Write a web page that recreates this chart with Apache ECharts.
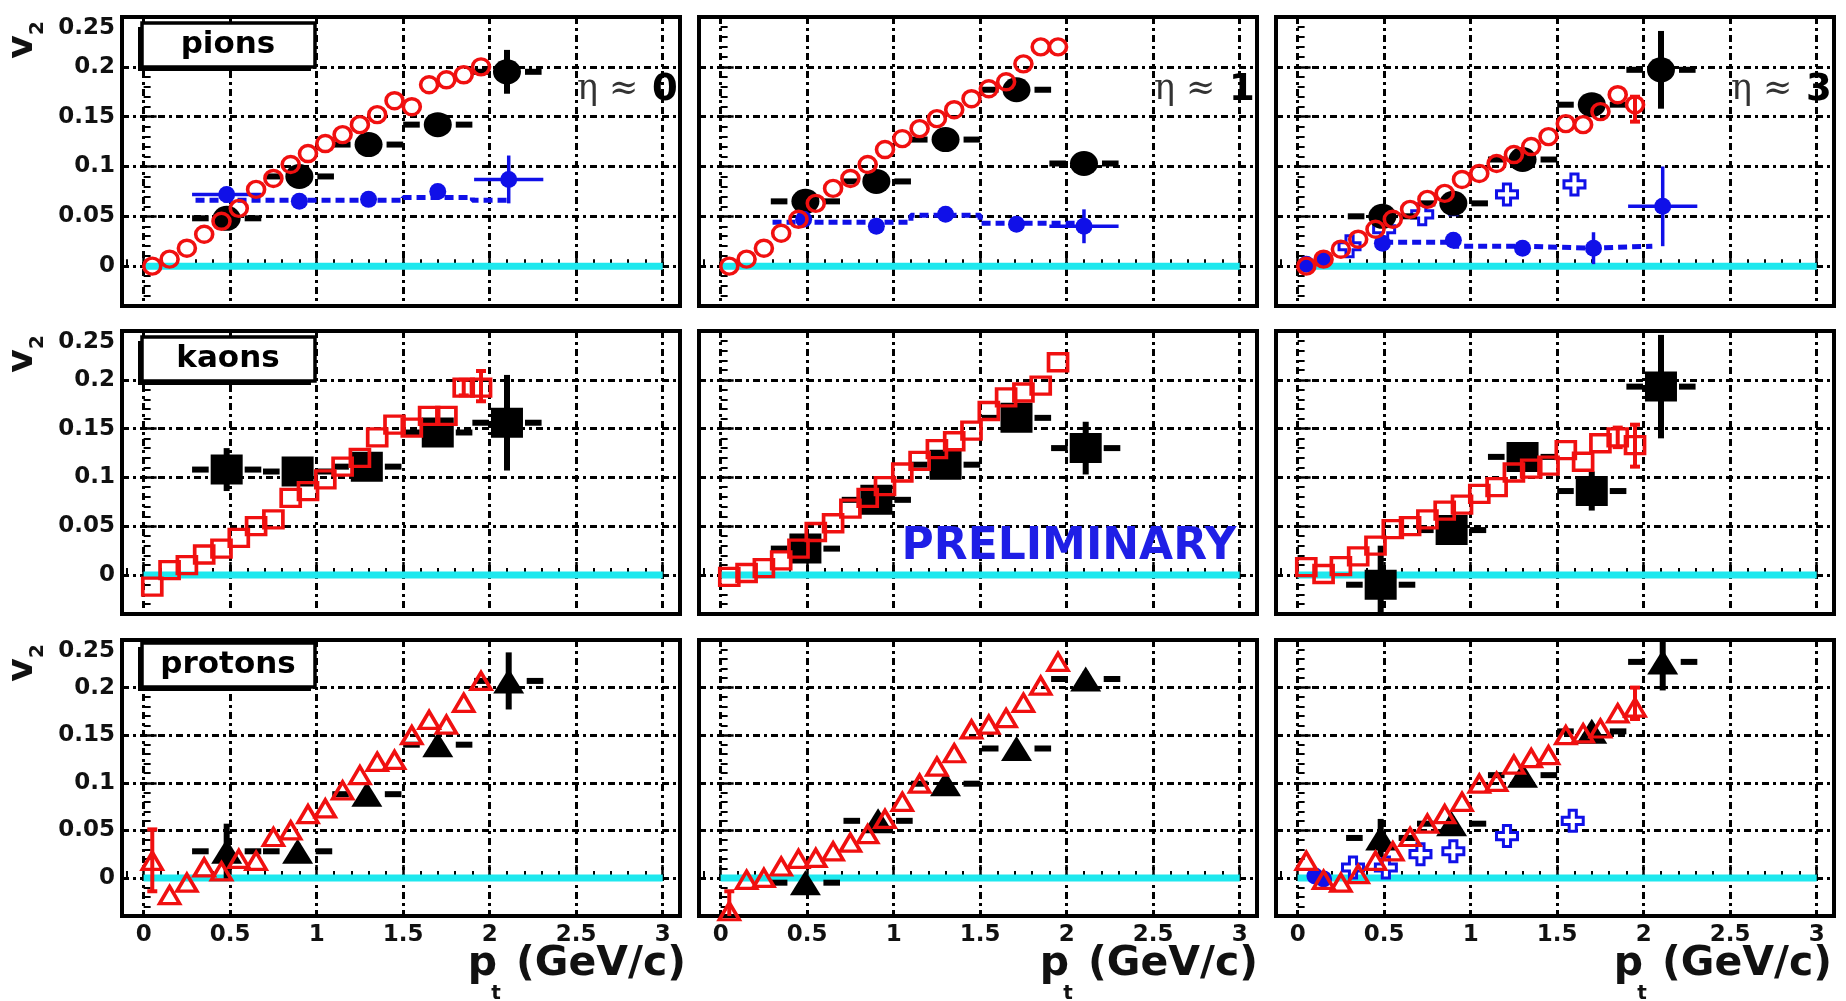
<!DOCTYPE html>
<html><head><meta charset="utf-8">
<script src="https://cdn.jsdelivr.net/npm/echarts/dist/echarts.min.js"></script>
<style>html,body{margin:0;padding:0;background:#fff}#c{width:1846px;height:1001px}</style>
</head><body><div id="c"></div><script>
// ---------------- DATA ----------------
const xTickValues = [0, 0.5, 1, 1.5, 2, 2.5, 3];
const xTickLabels = ['0', '0.5', '1', '1.5', '2', '2.5', '3'];
const yTickValues = [0, 0.05, 0.1, 0.15, 0.2, 0.25];
const yTickLabels = ['0', '0.05', '0.1', '0.15', '0.2', '0.25'];
const speciesNames = ['pions', 'kaons', 'protons'];
const etaDigits = ['0', '1', '3'];
const zeroLineX = [0, 3];
const zeroLineY = [0, 0];

// red open markers (fine pt bins)
const ptRed = [0.05,0.15,0.25,0.35,0.45,0.55,0.65,0.75,0.85,0.95,1.05,1.15,1.25,1.35,1.45,1.55,1.65,1.75,1.85,1.95];
const pi0Red = [0.000,0.007,0.018,0.032,0.045,0.058,0.077,0.088,0.102,0.113,0.123,0.132,0.142,0.152,0.166,0.160,0.182,0.187,0.192,0.200];
const pi1Red = [0.000,0.007,0.018,0.033,0.047,0.063,0.078,0.088,0.102,0.117,0.128,0.138,0.148,0.157,0.168,0.178,0.185,0.203,0.220,0.220];
const pi3Red = [0.000,0.007,0.017,0.027,0.037,0.047,0.057,0.067,0.073,0.087,0.093,0.103,0.112,0.120,0.130,0.143,0.142,0.155,0.172,0.162];
const ka0Red = [-0.012,0.005,0.010,0.021,0.027,0.038,0.050,0.057,0.079,0.086,0.098,0.111,0.120,0.141,0.154,0.151,0.163,0.163,0.192,0.192];
const ka1Red = [-0.002,0.002,0.007,0.015,0.027,0.044,0.053,0.068,0.079,0.091,0.105,0.117,0.129,0.137,0.148,0.168,0.182,0.187,0.194,0.218];
const ka3Red = [0.008,0.001,0.009,0.019,0.030,0.047,0.050,0.057,0.066,0.072,0.083,0.090,0.105,0.109,0.112,0.128,0.116,0.135,0.141,0.133];
const pr0Red = [0.018,-0.018,-0.005,0.011,0.007,0.020,0.018,0.043,0.050,0.067,0.073,0.092,0.108,0.122,0.124,0.150,0.166,0.161,0.184,0.207];
const pr1Red = [-0.035,-0.002,0.000,0.012,0.020,0.021,0.028,0.037,0.046,0.062,0.080,0.099,0.117,0.131,0.156,0.161,0.168,0.184,0.202,0.227];
const pr3Red = [0.018,-0.002,-0.005,0.004,0.018,0.028,0.043,0.057,0.067,0.080,0.099,0.101,0.119,0.126,0.129,0.150,0.152,0.157,0.173,0.179];
// red error bars: [index, low, high]
const pi0RedErr = [];
const pi1RedErr = [];
const pi3RedErr = [[19, 0.145, 0.170]];
const ka0RedErr = [[18, 0.184, 0.200], [19, 0.178, 0.209]];
const ka1RedErr = [];
const ka3RedErr = [[18, 0.131, 0.151], [19, 0.111, 0.154]];
const pr0RedErr = [[0, -0.014, 0.051]];
const pr1RedErr = [[0, -0.046, -0.014]];
const pr3RedErr = [[19, 0.167, 0.200]];

// black filled markers (coarse pt bins)
const binHalfWidth = [0.2, 0.2, 0.2, 0.2, 0.2];
const pi0BlackX = [0.48, 0.90, 1.30, 1.70, 2.10];
const pi0BlackY = [0.048, 0.090, 0.122, 0.142, 0.195];
const pi0BlackErr = [0.006, 0.008, 0.008, 0.008, 0.022];
const pi1BlackX = [0.49, 0.90, 1.30, 1.71, 2.10];
const pi1BlackY = [0.065, 0.085, 0.127, 0.177, 0.103];
const pi1BlackErr = [0.006, 0.006, 0.008, 0.008, 0.010];
const pi3BlackX = [0.49, 0.90, 1.30, 1.70, 2.10];
const pi3BlackY = [0.050, 0.063, 0.107, 0.162, 0.197];
const pi3BlackErr = [0.008, 0.008, 0.008, 0.008, 0.039];
const ka0BlackX = [0.48, 0.89, 1.29, 1.70, 2.10];
const ka0BlackY = [0.108, 0.106, 0.111, 0.146, 0.156];
const ka0BlackErr = [0.022, 0.010, 0.010, 0.012, 0.049];
const ka1BlackX = [0.49, 0.90, 1.30, 1.71, 2.11];
const ka1BlackY = [0.027, 0.077, 0.113, 0.161, 0.130];
const ka1BlackErr = [0.008, 0.008, 0.008, 0.008, 0.027];
const ka3BlackX = [0.48, 0.89, 1.30, 1.70, 2.10];
const ka3BlackY = [-0.010, 0.046, 0.121, 0.086, 0.193];
const ka3BlackErr = [0.040, 0.010, 0.012, 0.020, 0.053];
const pr0BlackX = [0.48, 0.89, 1.29, 1.70, 2.11];
const pr0BlackY = [0.028, 0.028, 0.088, 0.140, 0.207];
const pr0BlackErr = [0.029, 0.008, 0.008, 0.008, 0.030];
const pr1BlackX = [0.49, 0.91, 1.30, 1.71, 2.11];
const pr1BlackY = [-0.005, 0.060, 0.099, 0.136, 0.209];
const pr1BlackErr = [0.006, 0.006, 0.006, 0.006, 0.008];
const pr3BlackX = [0.48, 0.89, 1.30, 1.70, 2.11];
const pr3BlackY = [0.042, 0.057, 0.108, 0.154, 0.227];
const pr3BlackErr = [0.020, 0.008, 0.008, 0.008, 0.030];

// blue filled markers (pions)
const pi0BlueX = [0.48, 0.90, 1.30, 1.70, 2.11];
const pi0BlueY = [0.072, 0.065, 0.067, 0.075, 0.087];
const pi0BlueErr = [0.005, 0.004, 0.004, 0.005, 0.024];
const pi0BlueXErr = [0.2, 0, 0, 0, 0.2];
const pi1BlueX = [0.48, 0.90, 1.30, 1.71, 2.10];
const pi1BlueY = [0.047, 0.040, 0.052, 0.042, 0.040];
const pi1BlueErr = [0.004, 0.004, 0.005, 0.004, 0.017];
const pi1BlueXErr = [0, 0, 0, 0, 0.2];
const pi3BlueX = [0.49, 0.90, 1.30, 1.71, 2.11];
const pi3BlueY = [0.023, 0.026, 0.018, 0.018, 0.060];
const pi3BlueErr = [0.004, 0.004, 0.004, 0.016, 0.040];
const pi3BlueXErr = [0, 0, 0, 0, 0.2];
const pi3BlueLowX = [0.05, 0.15];
const pi3BlueLowY = [0.002, 0.007];
const pr3BlueLowX = [0.10, 0.15];
const pr3BlueLowY = [0.002, -0.001];
// blue dashed step lines
const pi0StepX = [0.30, 1.50, 1.90, 2.10];
const pi0StepY = [0.066, 0.069, 0.066, 0.066];
const pi1StepX = [0.30, 1.10, 1.50, 2.10];
const pi1StepY = [0.044, 0.051, 0.043, 0.043];
const pi3StepX = [0.50, 0.90, 1.30, 1.70, 2.05];
const pi3StepY = [0.024, 0.020, 0.018, 0.020, 0.020];
// blue open crosses
const pi3CrossX = [0.30, 0.50, 0.72, 0.90, 1.21, 1.60];
const pi3CrossY = [0.020, 0.037, 0.052, 0.062, 0.072, 0.082];
const pr3CrossX = [0.32, 0.51, 0.71, 0.90, 1.21, 1.59];
const pr3CrossY = [0.011, 0.011, 0.025, 0.028, 0.044, 0.060];

// ---------------- LAYOUT / STYLE ----------------
const colLeft = [122, 699, 1276];
const colWidth = 558;
const rowTop = [17, 331, 640];
const rowHeight = [289, 283, 276];
const boxOffset = [6, 6, 3];
const X_MIN = -0.125, X_MAX = 3.1, Y_MIN = -0.04, Y_MAX = 0.25;
const RED = '#f01010', BLUE = '#1010e8', BLACK = '#000000', CYAN = '#1ee8ee';
const FONT = '"DejaVu Sans", "Liberation Sans", sans-serif';
const CROSS = 'path://M3.3,0 L6.7,0 L6.7,3.3 L10,3.3 L10,6.7 L6.7,6.7 L6.7,10 L3.3,10 L3.3,6.7 L0,6.7 L0,3.3 L3.3,3.3 Z';

const panels = [
  {sp: 0, red: pi0Red, redErr: pi0RedErr, bx: pi0BlackX, by: pi0BlackY, be: pi0BlackErr,
   blue: [pi0BlueX, pi0BlueY, pi0BlueErr, pi0BlueXErr], step: [pi0StepX, pi0StepY]},
  {sp: 0, red: pi1Red, redErr: pi1RedErr, bx: pi1BlackX, by: pi1BlackY, be: pi1BlackErr,
   blue: [pi1BlueX, pi1BlueY, pi1BlueErr, pi1BlueXErr], step: [pi1StepX, pi1StepY]},
  {sp: 0, red: pi3Red, redErr: pi3RedErr, bx: pi3BlackX, by: pi3BlackY, be: pi3BlackErr,
   blue: [pi3BlueX, pi3BlueY, pi3BlueErr, pi3BlueXErr], step: [pi3StepX, pi3StepY],
   cross: [pi3CrossX, pi3CrossY], low: [pi3BlueLowX, pi3BlueLowY]},
  {sp: 1, red: ka0Red, redErr: ka0RedErr, bx: ka0BlackX, by: ka0BlackY, be: ka0BlackErr},
  {sp: 1, red: ka1Red, redErr: ka1RedErr, bx: ka1BlackX, by: ka1BlackY, be: ka1BlackErr},
  {sp: 1, red: ka3Red, redErr: ka3RedErr, bx: ka3BlackX, by: ka3BlackY, be: ka3BlackErr},
  {sp: 2, red: pr0Red, redErr: pr0RedErr, bx: pr0BlackX, by: pr0BlackY, be: pr0BlackErr},
  {sp: 2, red: pr1Red, redErr: pr1RedErr, bx: pr1BlackX, by: pr1BlackY, be: pr1BlackErr},
  {sp: 2, red: pr3Red, redErr: pr3RedErr, bx: pr3BlackX, by: pr3BlackY, be: pr3BlackErr,
   cross: [pr3CrossX, pr3CrossY], low: [pr3BlueLowX, pr3BlueLowY]}
];
const redSymbol = ['circle', 'rect', 'triangle'];
const redSize = [[17, 16], [19, 17], [20, 17]];
const blackSize = [[28, 25], [32, 30], [31, 25]];

function pairs(xs, ys) { return xs.map((x, k) => [x, ys[k]]); }
function labelFor(values, labels) {
  return function (v) {
    const k = values.findIndex(t => Math.abs(t - v) < 1e-6);
    return k < 0 ? '' : labels[k];
  };
}
function errRender(color, width, gap, cap) {
  return function (params, api) {
    const x = api.value(0), y = api.value(1), xe = api.value(2), lo = api.value(3), hi = api.value(4);
    const c = api.coord([x, y]);
    const style = {stroke: color, lineWidth: width, fill: null};
    const ch = [];
    if (xe > 0) {
      const l = api.coord([x - xe, y])[0], r = api.coord([x + xe, y])[0];
      if (c[0] - gap > l) ch.push({type: 'line', shape: {x1: l, y1: c[1], x2: c[0] - gap, y2: c[1]}, style});
      if (r > c[0] + gap) ch.push({type: 'line', shape: {x1: c[0] + gap, y1: c[1], x2: r, y2: c[1]}, style});
    }
    if (hi > lo) {
      const t = api.coord([x, hi])[1], b = api.coord([x, lo])[1];
      ch.push({type: 'line', shape: {x1: c[0], y1: t, x2: c[0], y2: b}, style});
      if (cap) {
        ch.push({type: 'line', shape: {x1: c[0] - cap, y1: t, x2: c[0] + cap, y2: t}, style});
        ch.push({type: 'line', shape: {x1: c[0] - cap, y1: b, x2: c[0] + cap, y2: b}, style});
      }
    }
    return {type: 'group', children: ch};
  };
}

const grid = [], xAxis = [], yAxis = [], series = [];
const tickStyle = {color: '#000', width: 2.5};
const gridLineStyle = {color: '#000', width: 3, type: [7, 4, 3, 4]};
panels.forEach((p, i) => {
  const r = Math.floor(i / 3), c = i % 3;
  grid.push({left: colLeft[c], top: rowTop[r], width: colWidth, height: rowHeight[r],
    show: true, borderColor: '#000', borderWidth: 4, backgroundColor: 'rgba(0,0,0,0)'});
  xAxis.push({gridIndex: i, type: 'value', min: X_MIN, max: X_MAX, splitNumber: 6,
    axisLine: {show: false},
    axisTick: {show: true, inside: true, length: 13, lineStyle: tickStyle},
    minorTick: {show: true, splitNumber: 5, length: 7, lineStyle: {color: '#000', width: 2}},
    splitLine: {show: true, lineStyle: gridLineStyle},
    axisLabel: {show: r === 2, margin: 8, fontFamily: FONT, fontWeight: 'bold', fontSize: 23, color: '#111',
      formatter: labelFor(xTickValues, xTickLabels)}});
  yAxis.push({gridIndex: i, type: 'value', min: Y_MIN, max: Y_MAX, splitNumber: 6,
    axisLine: {show: false},
    axisTick: {show: true, inside: true, length: 13, lineStyle: tickStyle},
    minorTick: {show: true, splitNumber: 5, length: 7, lineStyle: {color: '#000', width: 2}},
    splitLine: {show: true, lineStyle: gridLineStyle},
    axisLabel: {show: c === 0, margin: 7, fontFamily: FONT, fontWeight: 'bold', fontSize: 23, color: '#111',
      verticalAlignMaxLabel: 'top', formatter: labelFor(yTickValues, yTickLabels)}});
  const ax = {xAxisIndex: i, yAxisIndex: i, silent: true, animation: false};
  series.push(Object.assign({type: 'line', data: pairs(zeroLineX, zeroLineY), symbol: 'none',
    lineStyle: {color: CYAN, width: 7, opacity: 1}, z: 2}, ax));
  if (p.step) {
    series.push(Object.assign({type: 'line', step: 'end', data: pairs(p.step[0], p.step[1]), symbol: 'none',
      lineStyle: {color: BLUE, width: 5, type: [9, 5], opacity: 1}, z: 3}, ax));
  }
  if (p.cross) {
    series.push(Object.assign({type: 'scatter', data: pairs(p.cross[0], p.cross[1]), symbol: CROSS,
      symbolSize: [21, 21], itemStyle: {color: '#fff', borderColor: BLUE, borderWidth: 3, opacity: 1}, z: 3}, ax));
  }
  // black
  series.push(Object.assign({type: 'custom', clip: true, encode: {x: 0, y: 1}, z: 4,
    renderItem: errRender(BLACK, 6, 18, 0),
    data: p.bx.map((x, k) => [x, p.by[k], binHalfWidth[k], p.by[k] - p.be[k], p.by[k] + p.be[k]])}, ax));
  series.push(Object.assign({type: 'scatter', data: pairs(p.bx, p.by), symbol: redSymbol[p.sp],
    symbolSize: blackSize[p.sp], itemStyle: {color: BLACK, opacity: 1}, z: 4}, ax));
  // blue
  if (p.blue) {
    const [bx, by, be, bxe] = p.blue;
    series.push(Object.assign({type: 'custom', clip: true, encode: {x: 0, y: 1}, z: 5,
      renderItem: errRender(BLUE, 3.5, 0, 0),
      data: bx.map((x, k) => [x, by[k], bxe[k], by[k] - be[k], by[k] + be[k]])}, ax));
    series.push(Object.assign({type: 'scatter', data: pairs(bx, by), symbol: 'circle',
      symbolSize: 17, itemStyle: {color: BLUE, opacity: 1}, z: 5}, ax));
  }
  if (p.low) {
    series.push(Object.assign({type: 'scatter', data: pairs(p.low[0], p.low[1]), symbol: 'circle',
      symbolSize: 17, itemStyle: {color: BLUE, opacity: 1}, z: 5}, ax));
  }
  // red
  if (p.redErr.length) {
    series.push(Object.assign({type: 'custom', clip: true, encode: {x: 0, y: 1}, z: 6,
      renderItem: errRender(RED, 4, 0, 5),
      data: p.redErr.map(([k, lo, hi]) => [ptRed[k], p.red[k], 0, lo, hi])}, ax));
  }
  series.push(Object.assign({type: 'scatter', data: pairs(ptRed, p.red), symbol: redSymbol[p.sp],
    symbolSize: redSize[p.sp], itemStyle: {color: 'rgba(0,0,0,0)', borderColor: RED, borderWidth: 3.5, opacity: 1}, z: 6}, ax));
});

// ---------------- TEXT / DECORATION ----------------
function txt(x, y, text, font, fill, align, valign, extra) {
  return Object.assign({type: 'text', x: x, y: y, silent: true,
    style: {text: text, font: font, fill: fill, textAlign: align, textVerticalAlign: valign,
      align: align, verticalAlign: valign}}, extra || {});
}
const graphics = [];
speciesNames.forEach((name, r) => {
  const top = rowTop[r] + boxOffset[r];
  graphics.push({type: 'rect', silent: true, shape: {x: 138, y: top + 4, width: 173, height: 44}, style: {fill: '#000'}, z: 50});
  graphics.push({type: 'rect', silent: true, shape: {x: 142, y: top, width: 173, height: 44},
    style: {fill: '#fff', stroke: '#000', lineWidth: 3.5}, z: 51});
  graphics.push(txt(228, top + 22, name, 'bold 31px ' + FONT, '#000', 'center', 'middle', {z: 52}));
  // v2 axis title
  graphics.push(txt(23, rowTop[r] + 30, 'v', 'bold 36px ' + FONT, '#111', 'center', 'middle', {rotation: Math.PI / 2, z: 52}));
  graphics.push(txt(38, rowTop[r] + 11, '2', 'bold 20px ' + FONT, '#111', 'center', 'middle', {rotation: Math.PI / 2, z: 52}));
});
etaDigits.forEach((d, c) => {
  const x0 = colLeft[c] + 455;
  graphics.push(txt(x0, 90, 'η ≈', '35px "DejaVu Serif", serif', '#333', 'left', 'middle', {z: 40}));
  graphics.push(txt(x0 + 75, 90, d, 'bold 37px ' + FONT, '#000', 'left', 'middle', {z: 40}));
});
const ptTitleRight = [686, 1258, 1832];
ptTitleRight.forEach((xr) => {
  graphics.push(txt(xr, 964, '(GeV/c)', 'bold 41px ' + FONT, '#111', 'right', 'middle', {z: 40}));
  graphics.push(txt(xr - 189, 964, 'p', 'bold 41px ' + FONT, '#111', 'right', 'middle', {z: 40}));
  graphics.push(txt(xr - 190, 994, 't', 'bold 20px ' + FONT, '#111', 'center', 'middle', {z: 40}));
});
graphics.push(txt(1069, 548, 'PRELIMINARY', 'bold 44px ' + FONT, '#1f1fe6', 'center', 'middle', {z: 60}));

const chart = echarts.init(document.getElementById('c'), null, {renderer: 'canvas'});
chart.setOption({
  animation: false,
  backgroundColor: '#ffffff',
  grid: grid, xAxis: xAxis, yAxis: yAxis, series: series,
  graphic: {elements: graphics}
});
</script></body></html>
